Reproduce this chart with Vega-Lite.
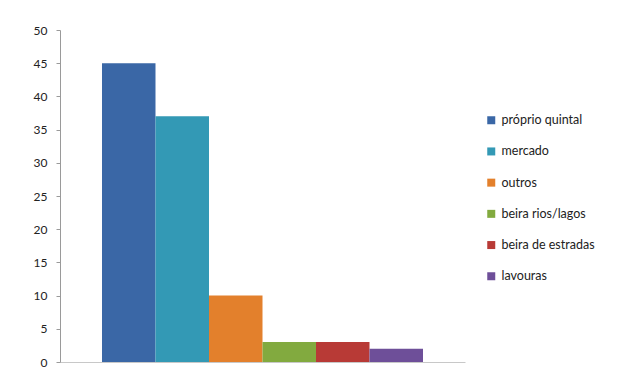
{
  "$schema": "https://vega.github.io/schema/vega-lite/v6.json",
  "width": 405,
  "height": 332,
  "autosize": "none",
  "padding": {"left": 60, "top": 30, "right": 155, "bottom": 13},
  "background": "white",
  "data": {"values": [
    {"origem": "próprio quintal", "valor": 45},
    {"origem": "mercado", "valor": 37},
    {"origem": "outros", "valor": 10},
    {"origem": "beira rios/lagos", "valor": 3},
    {"origem": "beira de estradas", "valor": 3},
    {"origem": "lavouras", "valor": 2}
  ]},
  "mark": {"type": "bar"},
  "encoding": {
    "x": {
      "field": "origem", "type": "nominal",
      "sort": ["próprio quintal", "mercado", "outros", "beira rios/lagos", "beira de estradas", "lavouras"],
      "scale": {"paddingInner": 0, "paddingOuter": 0.785},
      "axis": {"title": null, "labels": false, "ticks": false, "domain": true, "domainColor": "#c8c8c8"}
    },
    "y": {
      "field": "valor", "type": "quantitative",
      "scale": {"domain": [0, 50], "nice": false},
      "axis": {"title": null, "values": [0,5,10,15,20,25,30,35,40,45,50], "grid": false,
        "domainColor": "#9a9a9a", "tickColor": "#9a9a9a", "tickSize": 4,
        "labelPadding": 9, "labelFontSize": 12, "labelColor": "#222222", "labelFont": "Lato"}
    },
    "color": {
      "field": "origem", "type": "nominal",
      "scale": {
        "domain": ["próprio quintal", "mercado", "outros", "beira rios/lagos", "beira de estradas", "lavouras"],
        "range": ["#3A67A6", "#3399B5", "#E3802C", "#82AA3F", "#B83A36", "#6E4F99"]
      },
      "legend": {
        "title": null, "orient": "none", "legendX": 425, "legendY": 84,
        "symbolType": "square", "symbolSize": 64, "symbolStrokeWidth": 0,
        "labelFontSize": 12.5, "labelFont": "Lato", "labelColor": "#222222",
        "rowPadding": 18.2, "labelOffset": 4
      }
    }
  },
  "config": {"view": {"stroke": null}}
}
